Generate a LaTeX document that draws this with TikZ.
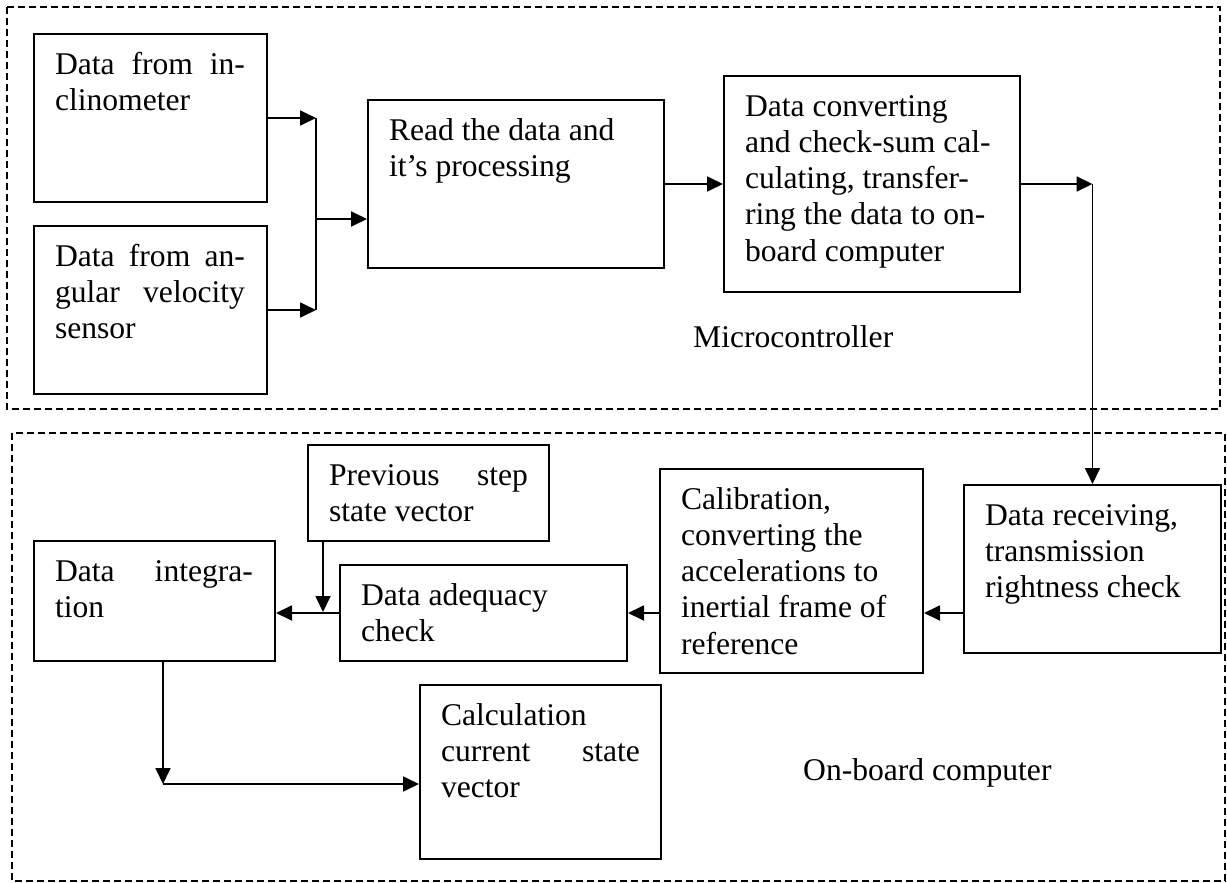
\documentclass[tikz,border=0pt]{standalone}
\usepackage{fontspec}
\setmainfont{Liberation Serif}
\usetikzlibrary{arrows.meta}
\newcommand{\bxt}[4]{\parbox[c][#2pt][t]{#1pt}{\vspace*{15pt}\hspace*{21pt}\parbox[t]{#3pt}{\rule{0pt}{25pt}#4}}}
\newcommand{\jl}[1]{\makebox[\linewidth][s]{#1}}
\begin{document}
\begin{tikzpicture}[x=1pt,y=-1pt,
  blk/.style={draw, line width=2pt, inner sep=0pt, anchor=north west,
    font=\fontsize{31.6pt}{36.3pt}\selectfont},
  lbl/.style={inner sep=0pt, anchor=base west, font=\fontsize{31.6pt}{36.3pt}\selectfont},
  grp/.style={draw, line width=1.8pt, dash pattern=on 7pt off 4pt},
  ln/.style={draw, line width=1.8pt},
  arr/.style={draw, line width=1.8pt, -{Triangle[length=16pt,width=15pt]}}]
\useasboundingbox (0,0) rectangle (1227,883);
\fill[white] (0,0) rectangle (1227,883);
% group frames
\draw[grp] (7,7) rectangle (1220,409);
\draw[grp] (12,433) rectangle (1225,881);
% blocks
\node[blk] (incl) at (33,33) {\bxt{233}{168}{190}{\jl{Data from in-}\\clinometer}};
\node[blk] (ang) at (33,225) {\bxt{233}{168}{190}{\jl{Data from an-}\\\jl{gular velocity}\\sensor}};
\node[blk] (read) at (367,99) {\bxt{296}{168}{254}{Read the data and\\it’s processing}};
\node[blk] (conv) at (723,75) {\bxt{296}{216}{256}{Data converting\\and check-sum cal-\\culating, transfer-\\ring the data to on-\\board computer}};
\node[blk] (prev) at (307,444) {\bxt{241}{96}{199}{\jl{Previous step}\\state vector}};
\node[blk] (integ) at (33,540) {\bxt{241}{120}{198}{\jl{Data integra-}\\tion}};
\node[blk] (adq) at (339,564) {\bxt{287}{96}{245}{Data adequacy\\check}};
\node[blk] (calib) at (659,468) {\bxt{263}{204}{221}{Calibration,\\converting the\\accelerations to\\inertial frame of\\reference}};
\node[blk] (recv) at (963,484) {\bxt{257}{168}{215}{Data receiving,\\transmission\\rightness check}};
\node[blk] (calc) at (419,684) {\bxt{241}{174}{199}{Calculation\\\jl{current state}\\vector}};
% labels
\node[lbl] (mc) at (693,347) {Microcontroller};
\node[lbl] (obc) at (803,780) {On-board computer};
% junction points
\coordinate (j1) at (316,219);
\coordinate (j2) at (323,612);
\coordinate (j3) at (163,784);
\coordinate (j4) at (conv.east -| recv.north);
% connectors
\draw[arr] (incl.east) -- (incl.east -| j1);
\draw[arr] (ang.east) -- (ang.east -| j1);
\draw[ln] (j1 |- incl.east) -- (j1 |- ang.east);
\draw[arr] (j1) -- (j1 -| read.west);
\draw[arr] (read.east) -- (read.east -| conv.west);
\draw[arr] (conv.east) -- (j4);
\draw[arr] (j4) -- (recv.north);
\draw[arr] (recv.west |- adq.east) -- (calib.east |- adq.east);
\draw[arr] (calib.west |- adq.east) -- (adq.east);
\draw[arr] (adq.west) -- (adq.west -| integ.east);
\draw[arr] (j2 |- prev.south) -- (j2);
\draw[arr] (j3 |- integ.south) -- (j3);
\draw[arr] (j3) -- (j3 -| calc.west);
\end{tikzpicture}
\end{document}
